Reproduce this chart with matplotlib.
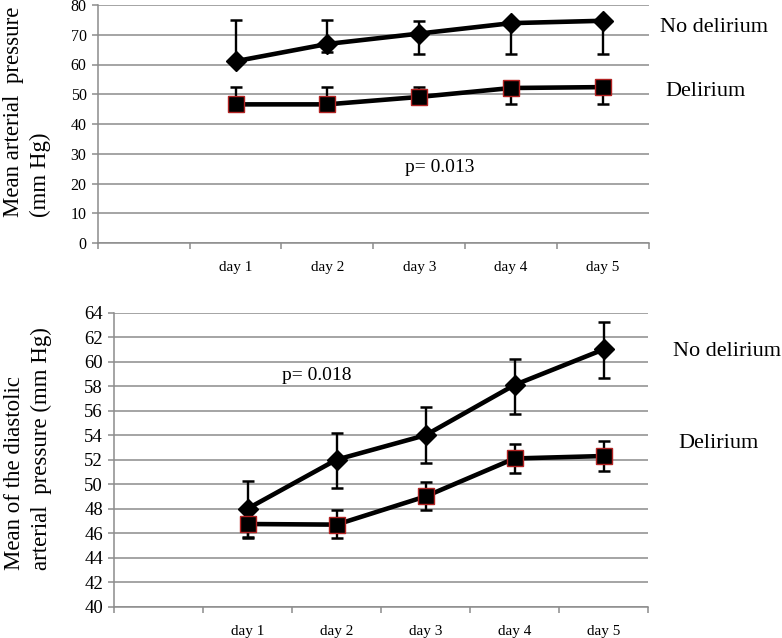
import matplotlib
matplotlib.use("Agg")
import matplotlib.pyplot as plt
import numpy as np

plt.rcParams['font.family'] = ['Liberation Serif', 'DejaVu Serif']

categories = ["", "day 1", "day 2", "day 3", "day 4", "day 5"]

# Top panel: mean arterial pressure
top_nd = [61.1, 66.9, 70.4, 73.9, 74.7]
top_nd_lo = [0, 2.8, 6.8, 10.3, 11.1]
top_nd_hi = [13.8, 8.0, 4.3, 0, 0]
top_de = [46.6, 46.6, 49.1, 52.1, 52.4]
top_de_lo = [0, 0, 0, 5.3, 5.6]
top_de_hi = [5.7, 5.7, 3.2, 0, 0]

# Bottom panel: mean diastolic arterial pressure
bot_nd = [48.0, 52.0, 54.0, 58.1, 61.0]
bot_nd_lo = [2.3, 2.3, 2.3, 2.4, 2.3]
bot_nd_hi = [2.3, 2.2, 2.3, 2.1, 2.2]
bot_de = [46.75, 46.7, 49.0, 52.1, 52.3]
bot_de_lo = [1.15, 1.1, 1.1, 1.2, 1.2]
bot_de_hi = [0, 1.2, 1.2, 1.2, 1.2]

W, H = 782, 638
fig = plt.figure(figsize=(W / 100, H / 100), dpi=100)

def px(x0, y0, x1, y1):
    return [x0 / W, 1 - y1 / H, (x1 - x0) / W, (y1 - y0) / H]

ax1 = fig.add_axes(px(97.7, 5, 649, 243))
ax2 = fig.add_axes(px(114, 312.7, 648, 606.7))

GRID = '#8c8c8c'
xs = np.arange(1, len(categories))

def style(ax, ylim, step, ytick_fs):
    ax.set_xlim(-0.5, len(categories) - 0.5)
    ax.set_ylim(*ylim)
    ax.set_yticks(np.arange(ylim[0], ylim[1] + 0.01, step))
    ax.yaxis.grid(True, color=GRID, linewidth=1.1)
    ax.set_axisbelow(True)
    for s in ['top', 'right']:
        ax.spines[s].set_visible(False)
    for s in ['left', 'bottom']:
        ax.spines[s].set_color(GRID)
        ax.spines[s].set_linewidth(1.1)
    ax.set_xticks(np.arange(len(categories)))
    ax.set_xticklabels(categories, fontsize=11)
    ax.tick_params(axis='x', which='major', length=0, pad=13)
    ax.set_xticks(np.arange(len(categories) + 1) - 0.5, minor=True)
    ax.tick_params(axis='x', which='minor', length=4, color=GRID, width=1.1)
    ax.tick_params(axis='y', length=4, color=GRID, width=1.1, labelsize=ytick_fs, pad=4)
    ax.set_yticklabels([f"{int(v)}" for v in ax.get_yticks()])

def series(ax, y, lo, hi, marker, ms, mec):
    ax.errorbar(xs, y, yerr=[lo, hi], fmt='none', ecolor='black',
                elinewidth=1.7, capsize=4.5, capthick=1.8, zorder=3)
    ax.plot(xs, y, color='black', linewidth=3.3, marker=marker, markersize=ms,
            markerfacecolor='black', markeredgecolor=mec, markeredgewidth=1.0,
            zorder=4, clip_on=False)

style(ax1, (0, 80), 10, 11.5)
series(ax1, top_nd, top_nd_lo, top_nd_hi, 'D', 10, 'black')
series(ax1, top_de, top_de_lo, top_de_hi, 's', 12, '#b22222')

style(ax2, (40, 64), 2, 13.5)
series(ax2, bot_nd, bot_nd_lo, bot_nd_hi, 'D', 10, 'black')
series(ax2, bot_de, bot_de_lo, bot_de_hi, 's', 12, '#b22222')

fig.text(27 / W, 1 - 217 / H, "Mean arterial  pressure\n(mm Hg)", rotation=90,
         ha='center', va='bottom', multialignment='left', fontsize=16.5, linespacing=1.3)
fig.text(28 / W, 1 - 570 / H, "Mean of the diastolic\narterial  pressure (mm Hg)", rotation=90,
         ha='center', va='bottom', multialignment='left', fontsize=16.5, linespacing=1.3)

fig.text(660 / W, 1 - 28 / H, "No delirium", fontsize=16, va='center', ha='left')
fig.text(665 / W, 1 - 91 / H, "Delirium", fontsize=16, va='center', ha='left')
fig.text(673 / W, 1 - 352 / H, "No delirium", fontsize=16, va='center', ha='left')
fig.text(678 / W, 1 - 443 / H, "Delirium", fontsize=16, va='center', ha='left')

fig.text(405 / W, 1 - 167 / H, "p= 0.013", fontsize=14, va='center', ha='left')
fig.text(282 / W, 1 - 375 / H, "p= 0.018", fontsize=14, va='center', ha='left')

fig.savefig("out.png", dpi=100)
